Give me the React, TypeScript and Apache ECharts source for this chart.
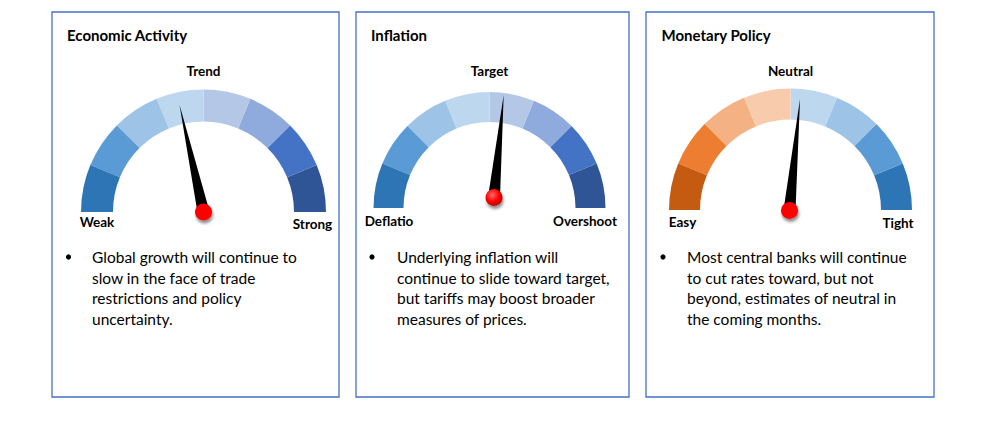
import React, { useEffect, useRef } from "react";
import * as echarts from "echarts";

const titles = ["Economic Activity", "Inflation", "Monetary Policy"];
const leftLabels = ["Weak", "Deflatio", "Easy"];
const midLabels = ["Trend", "Target", "Neutral"];
const rightLabels = ["Strong", "Overshoot", "Tight"];
const needleValues = [43, 53, 53];
const segmentBounds = [0.125, 0.25, 0.375, 0.5, 0.625, 0.75, 0.875, 1];
const bluePalette = ["#2E75B6", "#5B9BD5", "#9DC3E6", "#BDD7EE", "#B4C7E7", "#8FAADC", "#4472C4", "#2F5597"];
const policyPalette = ["#C55A11", "#ED7D31", "#F4B183", "#F8CBAD", "#BDD7EE", "#9DC3E6", "#5B9BD5", "#2E75B6"];
const bodyLines = [
  ["Global growth will continue to", "slow in the face of trade", "restrictions and policy", "uncertainty."],
  ["Underlying inflation will", "continue to slide toward target,", "but tariffs may boost broader", "measures of prices."],
  ["Most central banks will continue", "to cut rates toward, but not", "beyond, estimates of neutral in", "the coming months."],
];

// layout (pixels)
const panels = [
  { x: 52, w: 287, cx: 203.5, cy: 212, r: 122.5, band: 32, px: 203.5, py: 212, plen: 110, lx: 97, rx: 312.5, ly: 222, ry: 224, tx: 67, bx: 68.5, textX: 92 },
  { x: 356, w: 273, cx: 489.5, cy: 208, r: 116, band: 30, px: 494, py: 197.5, plen: 103, lx: 389, rx: 585, ly: 221, ry: 221, tx: 371, bx: 372, textX: 397 },
  { x: 646, w: 288, cx: 790.5, cy: 210, r: 121.5, band: 31, px: 789.5, py: 210.5, plen: 112, lx: 682.5, rx: 898, ly: 222, ry: 223, tx: 661.5, bx: 663, textX: 687 },
];
const palettes = [bluePalette, bluePalette, policyPalette];
const FONT = "Lato";

export default function App() {
  const ref = useRef<HTMLDivElement>(null);
  useEffect(() => {
    if (!ref.current) return;
    const chart = echarts.init(ref.current, null, { renderer: "svg" });
    const series: any[] = [];
    const graphic: any[] = [];
    panels.forEach((p, i) => {
      const pal = palettes[i];
      series.push({
        type: "gauge",
        center: [p.cx, p.cy],
        radius: p.r,
        startAngle: 180,
        endAngle: 0,
        min: 0,
        max: 100,
        axisLine: { lineStyle: { width: p.band, color: segmentBounds.map((b, k) => [b, pal[k]]) } },
        axisTick: { show: false },
        splitLine: { show: false },
        axisLabel: { show: false },
        pointer: { show: false },
        anchor: { show: false },
        title: { show: false },
        detail: { show: false },
        data: [{ value: needleValues[i] }],
        silent: true,
        z: 2,
      });
      series.push({
        type: "gauge",
        center: [p.px, p.py],
        radius: p.plen,
        startAngle: 180,
        endAngle: 0,
        min: 0,
        max: 100,
        axisLine: { show: false },
        axisTick: { show: false },
        splitLine: { show: false },
        axisLabel: { show: false },
        pointer: { show: true, icon: "triangle", length: p.plen, width: 12, itemStyle: { color: "#000000" } },
        anchor: {
          show: true,
          showAbove: true,
          size: 17,
          itemStyle: {
            color: i === 1
              ? new echarts.graphic.RadialGradient(0.4, 0.35, 0.65, [
                  { offset: 0, color: "#FF6A6A" },
                  { offset: 0.6, color: "#FF0000" },
                  { offset: 1, color: "#C00000" },
                ])
              : "#FF0000",
            shadowColor: "rgba(0,0,0,0.45)",
            shadowBlur: 3,
            shadowOffsetX: 1,
            shadowOffsetY: 3,
          },
        },
        title: { show: false },
        detail: { show: false },
        data: [{ value: needleValues[i] }],
        silent: true,
        z: 3,
      });
      graphic.push({
        type: "rect",
        shape: { x: p.x, y: 12, width: p.w, height: 385 },
        style: { fill: "none", stroke: "#4472C4", lineWidth: 1.3 },
        z: 1,
      });
      graphic.push({
        type: "text", x: p.tx, y: 35,
        style: { text: titles[i], font: `bold 15px ${FONT}`, fill: "#000", verticalAlign: "middle" },
      });
      graphic.push({
        type: "text", x: p.cx, y: 70.5,
        style: { text: midLabels[i], font: `bold 13.5px ${FONT}`, fill: "#000", align: "center", verticalAlign: "middle" },
      });
      graphic.push({
        type: "text", x: p.lx, y: p.ly,
        style: { text: leftLabels[i], font: `bold 13.5px ${FONT}`, fill: "#000", align: "center", verticalAlign: "middle" },
      });
      graphic.push({
        type: "text", x: p.rx, y: p.ry,
        style: { text: rightLabels[i], font: `bold 13.5px ${FONT}`, fill: "#000", align: "center", verticalAlign: "middle" },
      });
      graphic.push({
        type: "circle", shape: { cx: p.bx, cy: 257, r: 2.6 }, style: { fill: "#000" },
      });
      graphic.push({
        type: "text", x: p.textX, y: 246.5,
        style: {
          text: bodyLines[i].join("\n"),
          font: `15.5px ${FONT}`,
          lineHeight: 20.7,
          fill: "#000",
          align: "left",
          verticalAlign: "top",
        },
      });
    });
    chart.setOption({
      animation: false,
      backgroundColor: "#ffffff",
      series,
      graphic,
    });
    return () => chart.dispose();
  }, []);
  return <div ref={ref} style={{ position: "fixed", left: 0, top: 0, width: 981, height: 421 }} />;
}
